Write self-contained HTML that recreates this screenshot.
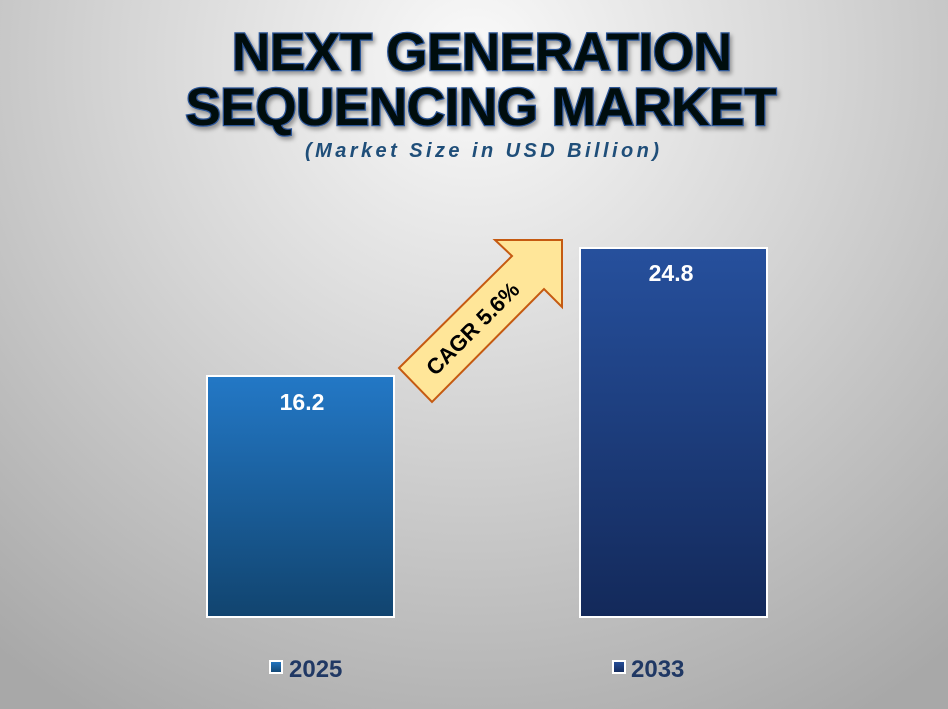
<!DOCTYPE html>
<html><head><meta charset="utf-8"><style>
html,body{margin:0;padding:0;width:948px;height:709px;overflow:hidden}
svg{display:block}
text{font-family:"Liberation Sans",Arial,sans-serif;font-weight:bold}
</style></head><body>
<svg width="948" height="709" viewBox="0 0 948 709" xmlns="http://www.w3.org/2000/svg">
<defs>
<radialGradient id="bg" cx="474" cy="60" r="760" gradientUnits="userSpaceOnUse">
<stop offset="0" stop-color="#fafafa"/><stop offset="0.45" stop-color="#d6d6d6"/><stop offset="1" stop-color="#a8a8a8"/>
</radialGradient>
<linearGradient id="b1" x1="0" y1="0" x2="0" y2="1"><stop offset="0" stop-color="#2378c6"/><stop offset="1" stop-color="#11446f"/></linearGradient>
<linearGradient id="b2" x1="0" y1="0" x2="0" y2="1"><stop offset="0" stop-color="#26509d"/><stop offset="1" stop-color="#13295a"/></linearGradient>
<filter id="sh" x="-10%" y="-10%" width="120%" height="130%"><feDropShadow dx="2" dy="3" stdDeviation="2" flood-color="#000" flood-opacity="0.35"/></filter>
</defs>
<rect width="948" height="709" fill="url(#bg)"/>
<g filter="url(#sh)">
<text x="482" y="70" text-anchor="middle" font-size="53" textLength="500" lengthAdjust="spacing" fill="#06080f" stroke="#2c5596" stroke-width="2.5" paint-order="stroke">NEXT GENERATION</text>
<text x="481" y="125" text-anchor="middle" font-size="53" textLength="591" lengthAdjust="spacing" fill="#06080f" stroke="#2c5596" stroke-width="2.5" paint-order="stroke">SEQUENCING MARKET</text>
</g>
<text x="482" y="157" text-anchor="middle" font-size="20" font-style="italic" textLength="354" lengthAdjust="spacing" fill="#1f4e79">(Market Size in USD Billion)</text>
<rect x="207" y="376" width="187" height="241" fill="url(#b1)" stroke="#fff" stroke-width="2"/>
<rect x="580" y="248" width="187" height="369" fill="url(#b2)" stroke="#fff" stroke-width="2"/>
<text x="302" y="410" text-anchor="middle" font-size="23" fill="#fff">16.2</text>
<text x="671" y="281" text-anchor="middle" font-size="23" fill="#fff">24.8</text>
<polygon points="399,368 512,256 495,240 562,240 562,307 544,289 432,402" fill="#ffe699" stroke="#c55a11" stroke-width="2"/>
<text x="0" y="0" transform="translate(478,334) rotate(-45)" text-anchor="middle" font-size="22" fill="#000">CAGR 5.6%</text>
<rect x="270" y="661" width="12" height="12" fill="url(#b1)" stroke="#fff" stroke-width="2"/>
<text x="289" y="677" font-size="24" fill="#203864">2025</text>
<rect x="613" y="661" width="12" height="12" fill="url(#b2)" stroke="#fff" stroke-width="2"/>
<text x="631" y="677" font-size="24" fill="#203864">2033</text>
</svg>
</body></html>
